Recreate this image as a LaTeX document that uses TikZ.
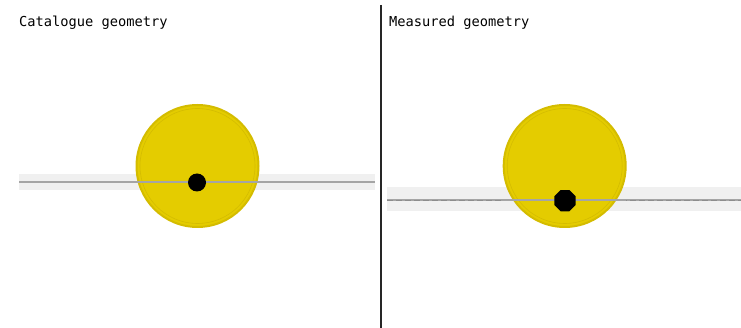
\documentclass[tikz,border=0pt]{standalone}
\usepackage{fontspec}
\setmonofont{DejaVu Sans Mono}
\usetikzlibrary{positioning,shapes.geometric}
\definecolor{bandgray}{RGB}{240,240,240}
\definecolor{wiregray}{RGB}{165,165,165}
\definecolor{wiredark}{RGB}{140,140,140}
\definecolor{discfill}{RGB}{228,204,0}
\definecolor{discedge}{RGB}{212,188,0}
\tikzset{
  paneltitle/.style={anchor=base west,inner sep=0pt,font=\ttfamily\fontsize{13.7}{15}\selectfont},
  disc/.style={circle,fill=discfill,draw=discedge,line width=2pt,minimum size=122pt,inner sep=0pt},
  pin/.style={circle,fill=black,minimum size=18pt,inner sep=0pt},
  octpin/.style={regular polygon,regular polygon sides=8,fill=black,minimum size=23pt,inner sep=0pt},
  band/.style={fill=bandgray,draw=none},
  wire/.style={draw=wiregray,line width=2pt}
}

\begin{document}
\begin{tikzpicture}[x=1pt,y=-1pt]
    \useasboundingbox (0,0) rectangle (741,328);

    % divider between the two panels
    \coordinate (Top) at (381,5);
    \coordinate (Bottom) at (381,328);
    \draw[line width=1.3pt,black!85] (Top) -- (Bottom);

    \node[paneltitle] (Catalogue) at (19,27) {Catalogue geometry};
    \node[paneltitle] (Measured) at (389,27) {Measured geometry};

    % left: catalogue
    \fill[band] (19,174) rectangle (375,190);
    \coordinate (L1) at (19,182.5);
    \coordinate (L2) at (375,182.5);
    \node[disc] (DiscL) at (197.5,166) {};
    \draw[discedge,line width=0.6pt] (DiscL) circle (57.5);
    \draw[wire] (L1) -- (L2);
    \node[pin] (PinL) at (197,182.5) {};

    % right: measured
    \fill[band] (387,187) rectangle (741,211);
    \coordinate (R1) at (387,200.5);
    \coordinate (R2) at (741,200.5);
    \draw[wire] (R1) -- (R2);
    \draw[wiredark,line width=1.6pt,dash pattern=on 6pt off 3pt] (R1) -- (R2);
    \node[disc] (DiscR) at (564.7,166) {};
    \draw[discedge,line width=0.6pt] (DiscR) circle (57.5);
    \coordinate (C1) at (503,200.5);
    \coordinate (C2) at (626,200.5);
    \draw[wire] (C1) -- (C2);
    \node[octpin] (PinR) at (565,200.7) {};
\end{tikzpicture}
\end{document}
